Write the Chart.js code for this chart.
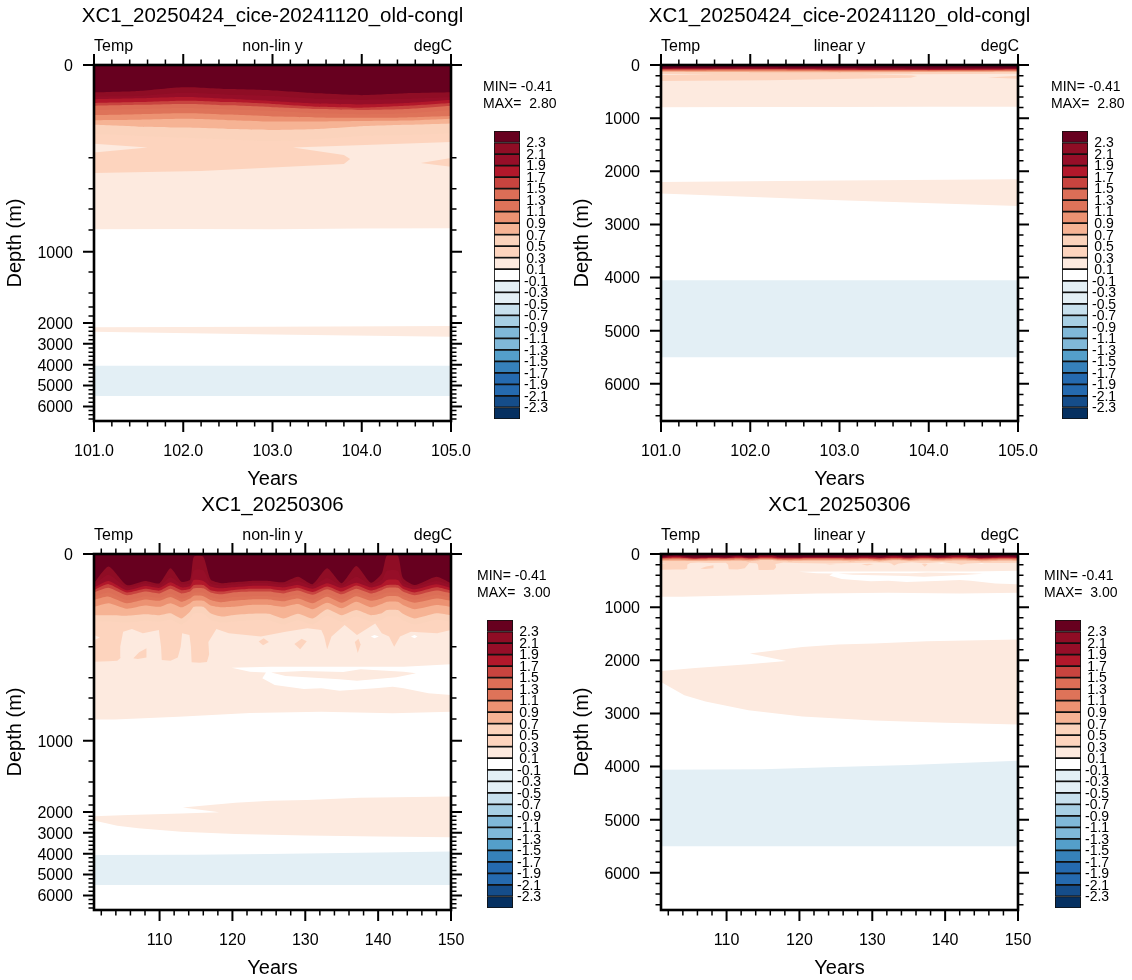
<!DOCTYPE html>
<html>
<head>
<meta charset="utf-8">
<title>Ocean temperature drift</title>
<script src="https://cdn.jsdelivr.net/npm/chart.js@4"></script>
<style>
  html, body { margin: 0; background: #fff; }
  canvas { position: absolute; }
</style>
</head>
<body>
<script>
// ----------- DATA BLOCK ------------
// Contour levels (degC) and the colour of the band just above each one.
const levels = [2.3, 2.1, 1.9, 1.7, 1.5, 1.3, 1.1, 0.9, 0.7, 0.5, 0.3, 0.1,
                -0.1, -0.3, -0.5, -0.7, -0.9, -1.1, -1.3, -1.5, -1.7, -1.9, -2.1, -2.3];
const bandColors = ['#67001F', '#8F0D25', '#960E28', '#B2182B', '#C8443F', '#DC6E57', '#DE7359',
                    '#EC9272', '#F6B394', '#FBD3BC', '#FDD4BE', '#FDEADF', '#FFFFFF',
                    '#E3EFF5', '#E3EFF5', '#C7E0ED', '#A7CFE4', '#80B8D8', '#80B8D8',
                    '#549FCA', '#3681BA', '#256AAF', '#256AAF', '#154D8A', '#053061'];

const titleA = 'XC1_20250424_cice-20241120_old-congl';
const titleB = 'XC1_20250306';
const statsA = ['MIN= -0.41', 'MAX=  2.80'];
const statsB = ['MIN= -0.41', 'MAX=  3.00'];

// Run A: depth (m) of each isotherm per year
const yearsA = [101, 101.5, 102, 102.5, 103, 103.5, 104, 104.5, 105];
const iso23A = [59, 56, 48, 52, 55, 61, 65, 61, 59];
const iso21A = [68, 67, 60, 64, 67, 73, 75, 73, 69];
const iso19A = [74, 72, 69, 73, 78, 83, 85, 82, 75];
const iso17A = [82, 80, 77, 80, 84, 90, 92, 88, 82];
const iso15A = [88, 86, 84, 87, 91, 95, 97, 95, 88];
const iso13A = [97, 95, 93, 96, 99, 104, 106, 104, 97];
const iso11A = [108, 106, 104, 107, 111, 113, 114, 113, 110];
const iso09A = [119, 118, 116, 119, 122, 122, 121, 120, 116];
const iso07A = [129, 133, 135, 138, 140, 138, 132, 129, 126];
const iso05A = [149, 153, 157, 161, 164, 160, 153, 151, 147];

// Run A: closed contour outlines, [year, depth]
const warm01A = [[101, 793], [102, 790], [103, 792], [104, 786], [105, 784], [105, 0], [101, 0]];
const deepWarmA = [[101, 2200], [103, 2175], [105, 2150], [105, 2655], [103, 2547], [101, 2420]];
const deepColdA = [[101, 4050], [105, 4050], [105, 5500], [101, 5500]];
const warm03A = [[101, 299], [102.2, 286], [103.8, 241], [103.87, 208], [103.8, 194], [103.23, 178],
                 [105, 166], [105, 0], [101, 0]];
const notch01A = [[101, 170], [101.6, 178], [101, 189]];
const blob03A = [[105, 202], [104.66, 234], [105, 258]];

// Run B: depth (m) of each isotherm per year
const yearsB = [101, 103, 105.5, 108, 110, 111.5, 113, 114.2, 114.7, 116, 117, 118.5, 120, 122.5, 125,
                127, 129, 131, 133, 135, 137, 139, 140.5, 141.2, 142.7, 143.4, 145, 148, 150];
const iso23B = [63, 27, 67, 58, 63, 31, 60, 55, 6, 6, 55, 63, 61, 58, 58, 61, 49, 65, 31, 63, 26, 62, 42, 3, 3, 52, 67, 49, 63];
const iso21B = [67, 45, 72, 63, 68, 50, 65, 63, 35, 35, 63, 68, 66, 63, 63, 66, 58, 69, 52, 68, 49, 66, 56, 36, 36, 62, 70, 58, 67];
const iso19B = [72, 58, 78, 69, 73, 61, 72, 69, 56, 58, 70, 74, 72, 69, 69, 72, 67, 75, 63, 73, 62, 72, 65, 56, 56, 69, 76, 65, 73];
const iso17B = [78, 65, 83, 75, 79, 68, 78, 75, 67, 67, 78, 81, 78, 75, 75, 79, 73, 82, 70, 81, 68, 79, 72, 67, 67, 75, 83, 72, 79];
const iso15B = [83, 73, 89, 81, 85, 75, 85, 81, 74, 74, 83, 87, 83, 81, 81, 85, 79, 88, 76, 87, 75, 85, 78, 73, 73, 81, 89, 79, 85];
const iso13B = [92, 83, 99, 91, 94, 85, 96, 89, 83, 83, 92, 97, 93, 91, 91, 94, 88, 98, 85, 97, 83, 94, 87, 83, 83, 90, 98, 88, 94];
const iso11B = [99, 92, 106, 98, 101, 93, 103, 96, 90, 91, 99, 104, 101, 98, 98, 102, 96, 106, 92, 105, 91, 101, 96, 91, 91, 97, 105, 96, 101];
const iso09B = [114, 106, 118, 111, 114, 106, 115, 106, 101, 101, 111, 115, 114, 110, 110, 114, 108, 119, 105, 117, 103, 115, 108, 103, 103, 110, 119, 110, 114];
const iso07B = [132, 132, 133, 130, 132, 128, 139, 124, 114, 114, 128, 135, 132, 129, 129, 139, 129, 139, 119, 132, 121, 132, 128, 121, 121, 129, 139, 128, 132];
const iso05B = [146, 145, 148, 144, 146, 142, 152, 138, 128, 128, 142, 148, 146, 143, 143, 152, 143, 152, 133, 146, 135, 146, 142, 135, 135, 143, 152, 142, 146];

// Run B: closed contour outlines, [year, depth]
const warm01B = [[101, 805], [103.8, 805], [112.6, 778], [122.4, 742], [132.2, 730], [142, 745], [150, 730], [150, 0], [101, 0]];
const cool01B = [[119.9, 335], [125.3, 329], [132.2, 329], [137.1, 329], [143.5, 329], [150, 313], [150, 570],
                 [146.9, 554], [143.5, 504], [142, 489], [139.6, 504], [134.7, 528], [132.2, 504], [129.8, 511],
                 [125.8, 472], [124.1, 406], [124.6, 367], [122.4, 361]];
const lens01B = [[125.3, 367], [129.8, 357], [135.2, 363], [137.6, 346], [143.5, 361], [145.2, 372],
                 [142.5, 397], [137.1, 430], [134.7, 416], [127.3, 389]];
const holeB1 = [[139, 178], [139.5, 175], [140.1, 178], [139.5, 182]];
const holeB2 = [[144.5, 178], [145, 175], [145.4, 178], [145, 182]];
const deepWarmB = [[101, 2200], [105.7, 2145], [113, 2075], [118.2, 2013], [113.2, 1874], [120.4, 1749], [125.3, 1704],
                   [130.2, 1686], [137.5, 1641], [150, 1610], [150, 3208], [140, 3176], [130.2, 3132], [120.4, 3057],
                   [113, 2943], [107.1, 2774], [104.2, 2660], [101, 2409]];
const deepColdB = [[101, 4060], [115, 4050], [125, 4010], [135, 3970], [150, 3890], [150, 5500], [101, 5500]];
const warm03B = [[101, 297], [103, 294], [104.2, 290], [104.7, 270], [104.6, 200], [105, 168], [106.2, 162], [107.7, 171],
                 [109.9, 164], [110.2, 200], [110.3, 285], [111.5, 290], [112.5, 270], [112.9, 200], [113.1, 171],
                 [114.1, 175], [114.3, 200], [114.4, 300], [115.5, 303], [116.5, 298], [116.8, 250], [116.7, 190],
                 [117.8, 162], [119.5, 171], [123.9, 178], [127.3, 168], [130.3, 160], [132.2, 164], [132.6, 178],
                 [133, 217], [133.6, 178], [135.4, 153], [137.1, 175], [139.6, 150], [140.5, 171], [141.5, 178],
                 [142.2, 200], [143, 178], [144.5, 168], [148.1, 171], [150, 164], [150, 0], [101, 0]];
const notch01B = [[101, 175], [101.8, 180], [101, 186]];
const blobsB = [
    [[106.4, 275], [107.2, 235], [108.2, 210], [108.2, 270], [107, 280]],
    [[123.6, 189], [124.3, 182], [125, 190], [124.2, 197]],
    [[128.5, 194], [129.5, 183], [130.2, 188], [129.3, 217]],
    [[136.8, 190], [137.3, 183], [137.6, 195], [137.2, 240]]
];

// ----------- SCALE BLOCK ------------
const maxDepth = 6700;
// The non-linear axis stretches the upper ocean: depth -> share of the axis length
const warpDepth = [0, 200, 400, 600, 800, 1000, 1200, 1400, 1600, 1800, 2000, 6700];
const warpShare = [0, .2604, .3475, .4045, .4635, .5244, .5815, .6404, .6798, .7051, .7247, 1];

function interp(v, xs, ys) {
    for (let i = 1; i < xs.length; i++) {
        if (v <= xs[i]) return ys[i - 1] + (v - xs[i - 1]) / (xs[i] - xs[i - 1]) * (ys[i] - ys[i - 1]);
    }
    return ys[ys.length - 1];
}

class WarpedDepthScale extends Chart.LinearScale {
    static id = 'warpedDepth';
    static defaults = {};
    getPixelForValue(value) {
        return value === null ? NaN : this.getPixelForDecimal(interp(value, warpDepth, warpShare));
    }
    getValueForPixel(pixel) {
        return interp(this.getDecimalForPixel(pixel), warpShare, warpDepth);
    }
}
Chart.register(WarpedDepthScale);

Chart.defaults.font.family = "'Liberation Sans', Helvetica, Arial, sans-serif";
Chart.defaults.color = '#000';

// ----------- HELPERS ------------
// Isotherm line closed along the surface, so later layers paint over earlier ones.
// The corners are doubled to keep them sharp when the line is smoothed.
function toSurface(years, depths) {
    const pts = years.map((y, i) => [y, depths[i]]);
    const lastYear = years[years.length - 1], lastDepth = depths[depths.length - 1];
    pts.push([lastYear, lastDepth], [lastYear, 0], [lastYear, 0], [years[0], 0], [years[0], 0]);
    return pts;
}

function layer(outline, color, tension) {
    return {
        data: outline.map(p => ({x: p[0], y: p[1]})),
        backgroundColor: color,
        borderWidth: 0,
        pointRadius: 0,
        tension: tension || 0,
        fill: 'shape'
    };
}

const col = level => bandColors[levels.indexOf(level)];
const cold = bandColors[levels.indexOf(-0.3)];
const iso = (years, depths, level) => layer(toSurface(years, depths), col(level), 0.2);

const layersA = [
    layer(warm01A, col(0.1)), layer(deepWarmA, col(0.1)), layer(deepColdA, cold),
    layer(warm03A, col(0.3)), layer(notch01A, col(0.1)), layer(blob03A, col(0.3)),
    iso(yearsA, iso05A, 0.5), iso(yearsA, iso07A, 0.7), iso(yearsA, iso09A, 0.9), iso(yearsA, iso11A, 1.1),
    iso(yearsA, iso13A, 1.3), iso(yearsA, iso15A, 1.5), iso(yearsA, iso17A, 1.7), iso(yearsA, iso19A, 1.9),
    iso(yearsA, iso21A, 2.1), iso(yearsA, iso23A, 2.3)
];

const layersB = [
    layer(warm01B, col(0.1)), layer(cool01B, '#FFFFFF'), layer(lens01B, col(0.1)),
    layer(holeB1, '#FFFFFF'), layer(holeB2, '#FFFFFF'),
    layer(deepWarmB, col(0.1)), layer(deepColdB, cold),
    layer(warm03B, col(0.3)), layer(notch01B, col(0.1))
].concat(blobsB.map(b => layer(b, col(0.3))), [
    iso(yearsB, iso05B, 0.5), iso(yearsB, iso07B, 0.7), iso(yearsB, iso09B, 0.9), iso(yearsB, iso11B, 1.1),
    iso(yearsB, iso13B, 1.3), iso(yearsB, iso15B, 1.5), iso(yearsB, iso17B, 1.7), iso(yearsB, iso19B, 1.9),
    iso(yearsB, iso21B, 2.1), iso(yearsB, iso23B, 2.3)
]);

function depthTicks() {
    const out = [];
    for (let d = 0; d <= 6600; d += 200) out.push({value: d, major: d % 1000 === 0});
    return out;
}
function yearTicksA() {
    const out = [];
    for (let i = 0; i <= 20; i++) out.push({value: 101 + i * 0.2, major: i % 5 === 0});
    return out;
}
function yearTicksB() {
    const out = [];
    for (let y = 102; y <= 150; y += 2) out.push({value: y, major: y % 10 === 0});
    return out;
}

// Frame and tick marks on all four sides
const frameTicks = {
    id: 'frameTicks',
    afterDatasetsDraw(chart) {
        const {ctx, chartArea: a, scales: {x, y}} = chart;
        ctx.save();
        ctx.strokeStyle = '#000';
        x.ticks.forEach(t => {
            const p = x.getPixelForValue(t.value), len = t.major ? 11 : 5.5;
            ctx.lineWidth = t.major ? 2 : 1.5;
            ctx.beginPath();
            ctx.moveTo(p, a.top - len); ctx.lineTo(p, a.top);
            ctx.moveTo(p, a.bottom); ctx.lineTo(p, a.bottom + len);
            ctx.stroke();
        });
        y.ticks.forEach(t => {
            const p = y.getPixelForValue(t.value), len = t.major ? 11 : 5.5;
            ctx.lineWidth = t.major ? 2 : 1.5;
            ctx.beginPath();
            ctx.moveTo(a.left - len, p); ctx.lineTo(a.left, p);
            ctx.moveTo(a.right, p); ctx.lineTo(a.right + len, p);
            ctx.stroke();
        });
        ctx.lineWidth = 2.6;
        ctx.strokeRect(a.left, a.top, a.right - a.left, a.bottom - a.top);
        ctx.restore();
    }
};

// Title, the three strings above the frame and the MIN/MAX note
function panelText(p) {
    return {
        id: 'panelText',
        afterDraw(chart) {
            const {ctx, chartArea: a} = chart;
            const mid = (a.left + a.right) / 2;
            ctx.save();
            ctx.fillStyle = '#000';
            ctx.textBaseline = 'middle';
            ctx.font = "20.5px 'Liberation Sans'";
            ctx.textAlign = 'center';
            ctx.fillText(p.title, mid, 16);
            ctx.font = "16px 'Liberation Sans'";
            ctx.fillText(p.tag, mid, 46.5);
            ctx.textAlign = 'left';
            ctx.fillText('Temp', a.left, 46.5);
            ctx.textAlign = 'right';
            ctx.fillText('degC', a.right + 1, 46.5);
            ctx.font = "14px 'Liberation Sans'";
            ctx.textAlign = 'left';
            ctx.fillText(p.stats[0], p.statsX, 87.5);
            ctx.fillText(p.stats[1], p.statsX, 104);
            ctx.restore();
        }
    };
}

// ----- CONFIGURATION BLOCK --------
function addCanvas(left, top, w, h) {
    const c = document.createElement('canvas');
    c.width = w; c.height = h;
    c.style.left = left + 'px'; c.style.top = top + 'px';
    c.style.width = w + 'px'; c.style.height = h + 'px';
    document.body.appendChild(c);
    return c;
}

function drawPanel(p) {
    new Chart(addCanvas(p.left, p.top, 565, 489), {
        type: 'line',
        // lower index paints last in Chart.js, so flip the painter's order
        data: {datasets: p.layers.slice().reverse()},
        options: {
            responsive: false,
            animation: false,
            devicePixelRatio: 1,
            events: [],
            layout: {padding: {left: 0, right: 114, top: 65, bottom: 0}},
            plugins: {legend: {display: false}, tooltip: {enabled: false}},
            scales: {
                x: {
                    type: 'linear',
                    min: 101,
                    max: p.maxYear,
                    afterBuildTicks: s => { s.ticks = p.yearTicks(); },
                    afterFit: s => { s.height = 68; },
                    grid: {display: false, drawTicks: false},
                    border: {display: false},
                    ticks: {
                        autoSkip: false,
                        maxRotation: 0,
                        padding: 21,
                        font: {size: 16},
                        callback: (v, i, ticks) => ticks[i].major ? p.yearLabel(v) : ''
                    },
                    title: {display: true, text: 'Years', font: {size: 20, lineHeight: 1}, padding: {top: 1, bottom: 0}}
                },
                y: {
                    type: p.yScale,
                    reverse: true,
                    min: 0,
                    max: maxDepth,
                    afterBuildTicks: s => { s.ticks = depthTicks(); },
                    afterFit: s => { s.width = 94; },
                    grid: {display: false, drawTicks: false},
                    border: {display: false},
                    ticks: {
                        autoSkip: false,
                        padding: 21,
                        labelOffset: 1.5,
                        font: {size: 16},
                        callback: (v, i, ticks) => ticks[i].major ? String(v) : ''
                    },
                    title: {display: true, text: 'Depth (m)', font: {size: 20, lineHeight: 1}, padding: {top: 5, bottom: 0}}
                }
            }
        },
        plugins: [frameTicks, panelText(p)]
    });

    // Colour bar: one floating bar per band, labelled on the band edges
    new Chart(addCanvas(p.barLeft - 2, p.top + 121, 72, 308), {
        type: 'bar',
        data: {
            labels: [''],
            datasets: bandColors.map((c, i) => ({
                data: [[i, i + 1]],
                backgroundColor: c,
                borderColor: '#111',
                borderWidth: 1.2,
                borderSkipped: false,
                grouped: false,
                barPercentage: 1,
                categoryPercentage: 1
            }))
        },
        options: {
            responsive: false,
            animation: false,
            devicePixelRatio: 1,
            events: [],
            layout: {padding: {left: 2, right: 0, top: 10, bottom: 10}},
            plugins: {legend: {display: false}, tooltip: {enabled: false}},
            scales: {
                x: {display: false},
                y: {
                    position: 'right',
                    reverse: true,
                    min: 0,
                    max: bandColors.length,
                    afterBuildTicks: s => { s.ticks = levels.map((l, i) => ({value: i + 1})); },
                    // keep the bar at its full height, the end labels stay inside it anyway
                    afterFit: s => { s.width = 44; s.paddingTop = 0; s.paddingBottom = 0; },
                    grid: {display: false, drawTicks: false},
                    border: {display: false},
                    ticks: {
                        autoSkip: false,
                        crossAlign: 'center',
                        padding: 4,
                        labelOffset: 1,
                        font: {size: 14},
                        callback: v => levels[v - 1].toFixed(1)
                    }
                }
            }
        }
    });
}

// -------- RENDER BLOCK -------
const labelA = v => v.toFixed(1);
const labelB = v => String(v);

drawPanel({left: 0, top: 0, title: titleA, tag: 'non-lin y', yScale: 'warpedDepth', layers: layersA,
           maxYear: 105, yearTicks: yearTicksA, yearLabel: labelA, stats: statsA, statsX: 483, barLeft: 494});
drawPanel({left: 567, top: 0, title: titleA, tag: 'linear y', yScale: 'linear', layers: layersA,
           maxYear: 105, yearTicks: yearTicksA, yearLabel: labelA, stats: statsA, statsX: 484, barLeft: 1062});
drawPanel({left: 0, top: 489, title: titleB, tag: 'non-lin y', yScale: 'warpedDepth', layers: layersB,
           maxYear: 150, yearTicks: yearTicksB, yearLabel: labelB, stats: statsB, statsX: 477, barLeft: 487});
drawPanel({left: 567, top: 489, title: titleB, tag: 'linear y', yScale: 'linear', layers: layersB,
           maxYear: 150, yearTicks: yearTicksB, yearLabel: labelB, stats: statsB, statsX: 477, barLeft: 1055});
</script>
</body>
</html>
